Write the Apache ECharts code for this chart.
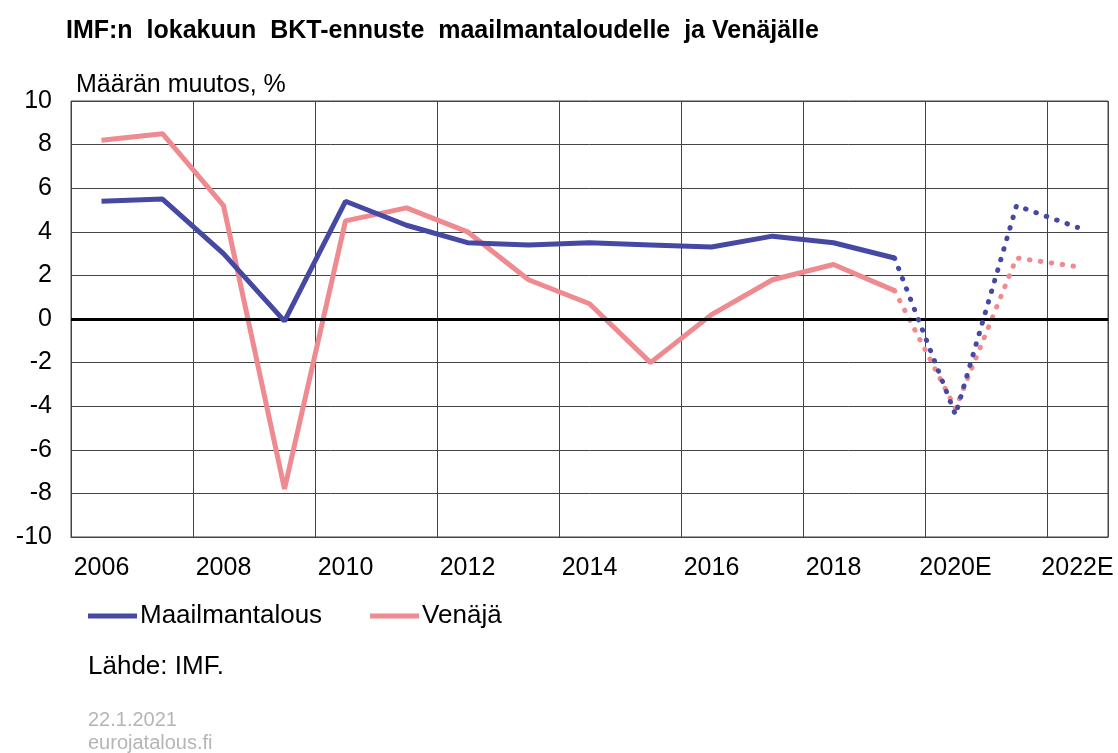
<!DOCTYPE html>
<html>
<head>
<meta charset="utf-8">
<script src="https://cdn.jsdelivr.net/npm/echarts@6/dist/echarts.min.js"></script>
<style>
  html, body { margin: 0; padding: 0; background: #fff; }
  #chart { width: 1118px; height: 753px; }
</style>
</head>
<body>
<div id="chart"></div>
<script>
// vuodet, E = ennuste
var years = ['2006', '2007', '2008', '2009', '2010', '2011', '2012', '2013', '2014',
  '2015', '2016', '2017', '2018', '2019', '2020E', '2021E', '2022E'];
var world = [5.4, 5.5, 3.0, -0.1, 5.4, 4.3, 3.5, 3.4, 3.5, 3.4, 3.3, 3.8, 3.5, 2.8, -4.4, 5.2, 4.2];
var russia = [8.2, 8.5, 5.2, -7.8, 4.5, 5.1, 4.0, 1.8, 0.7, -2.0, 0.2, 1.8, 2.5, 1.3, -4.1, 2.8, 2.4];
var yTicks = [-10, -8, -6, -4, -2, 0, 2, 4, 6, 8, 10];
var lastActual = 13; // 2019 viimeinen toteutunut

var blue = '#4549a3';
var pink = '#ee8a90';
var font = "'Liberation Sans', Arial, sans-serif";

function actual(arr) {
  return arr.map(function (v, i) { return i <= lastActual ? v : null; });
}
function forecast(arr) {
  return arr.map(function (v, i) { return i >= lastActual ? v : null; });
}

var chart = echarts.init(document.getElementById('chart'));

var option = {
  animation: false,
  backgroundColor: '#fff',
  title: [{
    text: 'IMF:n  lokakuun  BKT-ennuste  maailmantaloudelle  ja Venäjälle',
    left: 61,
    top: 14,
    textStyle: {
      fontFamily: "'Liberation Sans Narrow', 'Liberation Sans', Arial, sans-serif",
      fontWeight: 'bold',
      fontSize: 25,
      color: '#000'
    }
  }, {
    text: 'Määrän muutos, %',
    left: 71,
    top: 68,
    textStyle: { fontFamily: font, fontWeight: 'normal', fontSize: 25, color: '#000' }
  }, {
    text: 'Lähde: IMF.',
    left: 83,
    top: 649,
    textStyle: { fontFamily: font, fontWeight: 'normal', fontSize: 26, color: '#000' }
  }, {
    text: '22.1.2021',
    left: 83,
    top: 705,
    textStyle: { fontFamily: font, fontWeight: 'normal', fontSize: 20, color: '#b5b5b5' }
  }, {
    text: 'eurojatalous.fi',
    left: 83,
    top: 728,
    textStyle: { fontFamily: font, fontWeight: 'normal', fontSize: 20, color: '#b5b5b5' }
  }],
  legend: {
    left: 88,
    top: 603,
    padding: 0,
    itemGap: 48,
    itemWidth: 49,
    itemHeight: 5,
    icon: 'rect',
    data: ['Maailmantalous', 'Venäjä'],
    textStyle: { fontFamily: font, fontSize: 26, color: '#000', padding: [0, 0, 0, -2] }
  },
  grid: {
    left: 71,
    right: 10,
    top: 101,
    bottom: 216,
    show: true,
    borderColor: '#444',
    borderWidth: 1
  },
  xAxis: {
    type: 'category',
    data: years,
    boundaryGap: true,
    axisLine: { onZero: false, lineStyle: { color: '#444' } },
    axisTick: { show: false },
    axisLabel: {
      interval: 1,
      margin: 19,
      fontFamily: font,
      fontSize: 25,
      color: '#000'
    },
    splitLine: { show: true, interval: 1, lineStyle: { color: '#444', width: 1 } }
  },
  yAxis: {
    type: 'value',
    min: yTicks[0],
    max: yTicks[yTicks.length - 1],
    interval: 2,
    axisLine: { show: false },
    axisTick: { show: false },
    axisLabel: {
      margin: 19,
      fontFamily: font,
      fontSize: 25,
      color: '#000'
    },
    splitLine: { lineStyle: { color: '#444', width: 1 } }
  },
  series: [{
    name: 'Maailmantalous',
    type: 'line',
    data: actual(world),
    symbol: 'none',
    color: blue,
    lineStyle: { width: 5, color: blue },
    z: 5,
    markLine: {
      silent: true,
      symbol: 'none',
      label: { show: false },
      lineStyle: { color: '#000', width: 3, type: 'solid' },
      data: [{ yAxis: 0 }]
    }
  }, {
    name: 'Maailmantalous',
    type: 'line',
    data: forecast(world),
    symbol: 'none',
    color: blue,
    lineStyle: { width: 5, color: blue, type: [0.5, 10.5], cap: 'round' },
    z: 5
  }, {
    name: 'Venäjä',
    type: 'line',
    data: actual(russia),
    symbol: 'none',
    color: pink,
    lineStyle: { width: 5, color: pink },
    z: 4
  }, {
    name: 'Venäjä',
    type: 'line',
    data: forecast(russia),
    symbol: 'none',
    color: pink,
    lineStyle: { width: 5, color: pink, type: [0.5, 10.5], cap: 'round' },
    z: 4
  }]
};

chart.setOption(option);
</script>
</body>
</html>
